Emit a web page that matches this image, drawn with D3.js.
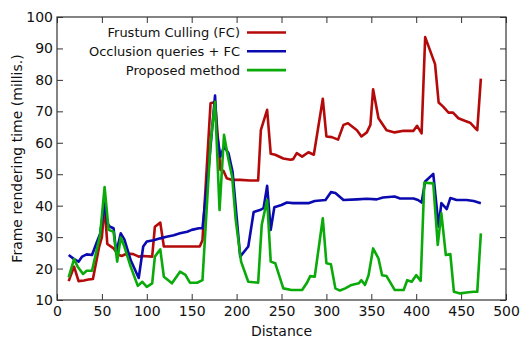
<!DOCTYPE html>
<html>
<head>
<meta charset="utf-8">
<script src="https://cdn.jsdelivr.net/npm/d3@7"></script>
<style>
body { margin: 0; background: #fff; }
svg text { font-family: "DejaVu Sans", sans-serif; fill: #111; }
</style>
</head>
<body>
<div id="chart"></div>
<script>
// series data
var fcX = [13, 19, 24, 30, 35, 40, 47, 50, 53, 56, 63, 69, 72, 78, 85, 91, 96, 106, 109, 115, 119, 130, 140, 150, 159, 162, 171, 176, 182, 185.5, 189, 195, 204, 215, 221, 224, 227, 234, 238, 243, 252, 260, 263, 267, 273, 280, 286, 296, 300, 306, 313, 319, 324, 334, 339, 345, 349, 352, 358, 367, 376, 386, 397, 401, 406, 410, 421, 425, 430, 436, 441, 447, 454, 460, 466, 468, 472];
var fcY = [16, 20.6, 16, 16.2, 16.5, 16.7, 27, 30, 40, 27.8, 26.4, 24.3, 24, 24.8, 24.6, 23.8, 24, 23.8, 33.3, 34.6, 27, 27, 27, 27, 27, 29, 72.6, 73, 51.4, 51, 48.7, 48.2, 48.2, 48, 48, 48, 64, 70.5, 56.5, 56.2, 55, 54.6, 54.8, 56.7, 55.6, 57, 56.2, 74, 62, 61.8, 61, 65.7, 66.2, 64, 62, 63.3, 65.7, 77, 67.8, 64, 63.3, 63.8, 63.8, 65.4, 63, 93.6, 85, 72.8, 71.5, 69.6, 69.6, 67.8, 67, 66.4, 64.6, 64, 80.4];

var oqX = [13, 19, 24, 28, 33, 39, 44.5, 48, 53, 56, 59, 63, 66, 71, 75, 82, 91, 96, 100, 107.5, 115, 122, 130, 137, 145, 150, 158, 162, 169, 176, 178, 182, 186, 191, 195.5, 204, 213, 219, 226, 230, 234, 238, 242, 250, 256, 263, 273, 280, 287, 299, 305, 310, 319, 334, 345, 356, 363, 376, 382, 397, 402, 406, 410, 419, 425, 428, 434, 438, 445, 456, 464, 472];
var oqY = [24.3, 23, 22.2, 23.8, 24.5, 24.3, 28.5, 31, 40.8, 34.4, 33.3, 32.8, 25, 31.2, 29.3, 22.7, 17, 27, 28.6, 29, 29.6, 30.1, 30.6, 31.2, 31.7, 32.3, 32.8, 32.8, 52.4, 75, 63, 55.6, 58.8, 56.7, 50.8, 23.8, 27, 38, 38.6, 39.2, 46.3, 32.3, 39.5, 40.2, 41, 40.8, 40.8, 40.8, 41.5, 41.8, 44.3, 44, 41.8, 42, 42.2, 42, 42.6, 42.9, 42.3, 42.3, 41.8, 41, 47.7, 50.1, 33.3, 40.8, 38.9, 42.4, 41.8, 41.8, 41.5, 40.8];

var pmX = [13, 19, 23, 29, 33, 39, 48, 53, 57.5, 63, 67, 71, 75, 82, 90, 95, 100, 106, 109, 115, 119, 128, 137, 143, 148, 156, 162, 171, 176, 181, 186, 191, 195, 199, 205, 213, 224, 228, 234, 238, 243, 252, 261, 273, 278, 282, 287, 296, 300, 305, 310, 315, 321, 328, 336, 339, 343, 347, 352, 358, 362, 367, 376, 386, 390, 395, 400, 405, 409, 419, 424, 428, 433, 438, 442, 449, 456, 464, 468, 472];
var pmY = [17.2, 23, 20.6, 18.3, 19.3, 19.3, 30.7, 45.9, 32.3, 31.7, 22.2, 29.9, 27, 20.6, 14.5, 15.8, 14.2, 15.3, 23.8, 26.1, 17.4, 15.3, 19, 18, 15.5, 15.5, 16.3, 60, 73, 38.6, 62.5, 54.6, 49.3, 35.5, 22.2, 15.8, 15.5, 33.9, 41.8, 22.2, 21.7, 13.7, 13.2, 13.2, 15.3, 17.6, 17.4, 36, 21.7, 21.4, 13.7, 13, 13.7, 14.8, 15.3, 16.3, 14.8, 17.9, 26.4, 23.2, 17.9, 17.6, 13.2, 13.2, 16.3, 15.8, 17.9, 16.1, 47.3, 47.1, 27.5, 37.6, 24.3, 24.6, 12.6, 12.1, 12.4, 12.6, 12.6, 31.2];

var seriesNames = ["Frustum Culling (FC)", "Occlusion queries + FC", "Proposed method"];
var seriesColors = ["#b40a0a", "#0a0ab0", "#0aaa0a"];
var xTicks = [0, 50, 100, 150, 200, 250, 300, 350, 400, 450, 500];
var yTicks = [10, 20, 30, 40, 50, 60, 70, 80, 90, 100];

var W = 530, H = 338;
var margin = {top: 17, right: 24, bottom: 38, left: 57};
var width = W - margin.left - margin.right
    , height = H - margin.top - margin.bottom;

var svg = d3.select("#chart").append("svg").attr("width", W).attr("height", H);
var g = svg.append("g").attr("transform", "translate(" + margin.left + "," + margin.top + ")");

var x = d3.scaleLinear().domain([0, 500]).range([0, width]);
var y = d3.scaleLinear().domain([10, 100]).range([height, 0]);

// axes (ticks pointing inward, mirrored on top/right like gnuplot)
var xAxis = g.append("g").attr("transform", "translate(0," + height + ")")
    .call(d3.axisBottom(x).tickValues(xTicks).tickSizeInner(-6).tickSizeOuter(0).tickPadding(5));
var xTop = g.append("g").call(d3.axisTop(x).tickValues(xTicks).tickSizeInner(-6).tickSizeOuter(0).tickFormat(""));
var yAxis = g.append("g").call(d3.axisLeft(y).tickValues(yTicks).tickSizeInner(-6).tickSizeOuter(0).tickPadding(4));
var yRight = g.append("g").attr("transform", "translate(" + width + ",0)")
    .call(d3.axisRight(y).tickValues(yTicks).tickSizeInner(-6).tickSizeOuter(0).tickFormat(""));
[xAxis, xTop, yAxis, yRight].forEach(function (a) {
    a.select(".domain").remove();
    a.selectAll("line").attr("stroke", "#333");
    a.selectAll("text").attr("font-size", 14).attr("font-family", "DejaVu Sans, sans-serif").attr("fill", "#111");
});
xAxis.selectAll("text").attr("dy", "0.75em");

g.append("rect").attr("width", width).attr("height", height)
    .attr("fill", "none").attr("stroke", "#333").attr("stroke-width", 1.2);

// lines
var line = d3.line().x(function (d) { return x(d[0]); }).y(function (d) { return y(d[1]); });
var allSeries = [d3.zip(fcX, fcY), d3.zip(oqX, oqY), d3.zip(pmX, pmY)];
allSeries.forEach(function (data, i) {
    g.append("path").datum(data)
        .attr("fill", "none").attr("stroke", seriesColors[i])
        .attr("stroke-width", 2.6).attr("stroke-linejoin", "round")
        .attr("d", line);
});

// legend
var legend = g.append("g").attr("transform", "translate(0,0)");
seriesNames.forEach(function (name, i) {
    var ly = 15.5 + i * 18.8;
    legend.append("text").attr("x", 183).attr("y", ly).attr("dy", "0.35em")
        .attr("text-anchor", "end").attr("font-size", 13).text(name);
    legend.append("line").attr("x1", 190).attr("x2", 229).attr("y1", ly).attr("y2", ly)
        .attr("stroke", seriesColors[i]).attr("stroke-width", 2.6);
});

// axis titles
svg.append("text").attr("x", margin.left + x(250)).attr("y", 336)
    .attr("text-anchor", "middle").attr("font-size", 14).text("Distance");
svg.append("text").attr("transform", "translate(17," + (margin.top + height / 2) + ") rotate(-90)")
    .attr("text-anchor", "middle").attr("dy", "0.35em").attr("font-size", 14)
    .text("Frame rendering time (millis.)");
</script>
</body>
</html>
